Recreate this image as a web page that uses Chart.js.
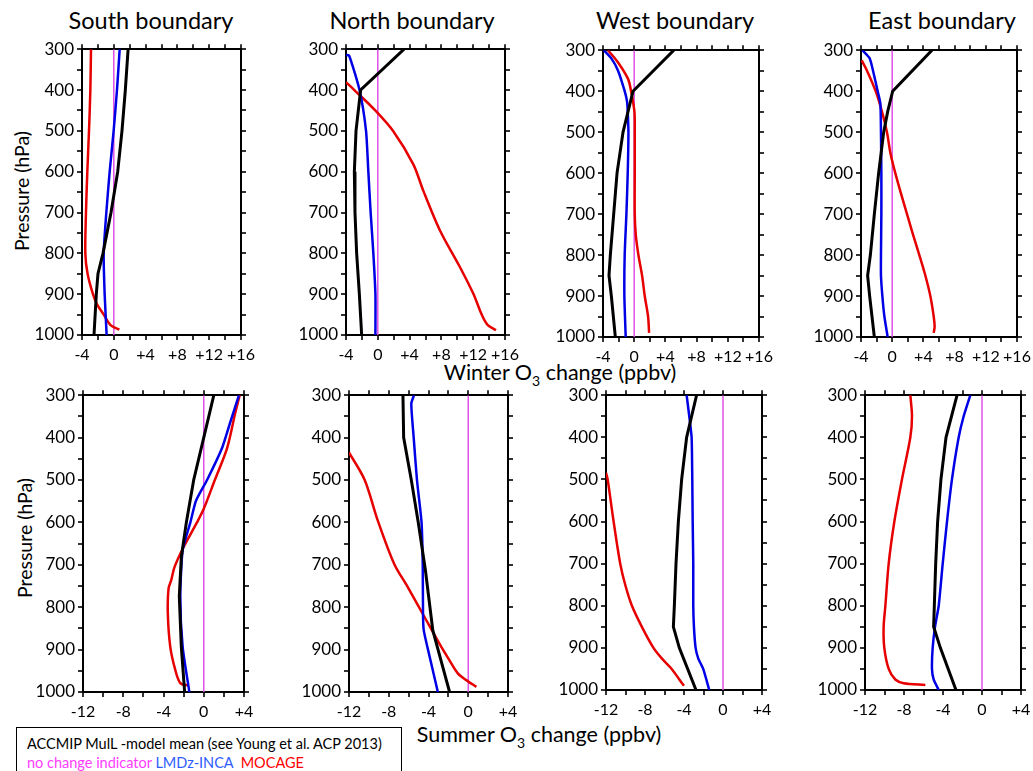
<!DOCTYPE html>
<html>
<head>
<meta charset="utf-8">
<script src="https://cdn.jsdelivr.net/npm/chart.js@4.4.1/dist/chart.umd.min.js"></script>
<style>
  body { margin: 0; width: 1033px; height: 771px; background: #fff; position: relative; overflow: hidden; font-family: Lato, sans-serif; }
  canvas { position: absolute; }
  .lbl { position: absolute; white-space: nowrap; color: #000; transform: translate(-50%, -50%); }
  .ttl { font-size: 23.5px; }
  .axt { font-size: 21.5px; }
  .ylab { font-size: 19.5px; transform: translate(-50%, -50%) rotate(-90deg); }
  #legende { position: absolute; left: 16px; top: 727px; width: 386px; height: 60px; border: 1.5px solid #000; box-sizing: border-box; font-size: 14.5px; padding: 6px 0 0 10px; line-height: 19px; }
</style>
</head>
<body>
<div class="lbl ttl" style="left:151px;top:20px">South boundary</div>
<div class="lbl ttl" style="left:412px;top:20px">North boundary</div>
<div class="lbl ttl" style="left:675px;top:20px">West boundary</div>
<div class="lbl ttl" style="left:942px;top:20px">East boundary</div>
<div class="lbl axt" style="left:560px;top:374px">Winter O<sub style="font-size:14px">3</sub> change (ppbv)</div>
<div class="lbl axt" style="left:539px;top:736px">Summer O<sub style="font-size:14px">3</sub> change (ppbv)</div>
<div class="lbl ylab" style="left:21px;top:191px">Pressure (hPa)</div>
<div class="lbl ylab" style="left:24px;top:538px">Pressure (hPa)</div>
<div id="legende">
  <div>ACCMIP MulL -model mean (see Young et al. ACP 2013)</div>
  <div><span style="color:#ff3cff">no change indicator</span> <span style="color:#2f5cff">LMDz-INCA</span>&nbsp; <span style="color:#ff0000">MOCAGE</span></div>
</div>
<script>
// pairs [O3 change (ppbv), pressure (hPa)]
const presMin = 300, presMax = 1000;
const winterRange = [-4, 16];
const summerRange = [-12, 4];

const southWinterMean = [[1.8,300],[1.45,400],[1.03,500],[0.49,600],[-0.35,700],[-1.36,800],[-1.99,850],[-2.2,900],[-2.49,1000]];
const southWinterInca = [[0.74,300],[0.4,400],[-0.02,500],[-0.52,600],[-0.94,700],[-1.27,800],[-1.15,900],[-0.9,1000]];
const southWinterMocage = [[-2.87,300],[-2.95,400],[-3.12,500],[-3.33,600],[-3.5,700],[-3.58,800],[-3.3,850],[-2.62,900],[-2.11,925],[-1.27,950],[-0.44,975],[0.7,987]];

const northWinterMean = [[3.3,300],[-2.16,400],[-2.74,500],[-2.95,600],[-2.87,700],[-2.66,800],[-2.32,900],[-2.03,1000]];
const northWinterInca = [[-4,314],[-3.6,316],[-2.3,400],[-1.48,500],[-1.19,600],[-0.9,700],[-0.56,800],[-0.3,900],[-0.3,1000]];
const northWinterMocage = [[-4,381],[-2.95,400],[-0.32,450],[1.95,501],[4.47,582],[5.73,647],[7.82,744],[10.34,834],[12.02,899],[13.07,950],[13.8,975],[14.87,988]];

const westWinterMean = [[5.08,300],[-0.15,400],[-0.79,450],[-1.43,500],[-2.2,600],[-2.63,700],[-3.06,800],[-3.23,850],[-2.93,900],[-2.42,1000]];
const westWinterInca = [[-3.91,300],[-2.93,320],[-2.07,350],[-1.22,400],[-0.92,425],[-0.83,450],[-0.74,500],[-0.83,600],[-1.0,700],[-1.22,800],[-1.26,900],[-1.09,1000]];
const westWinterMocage = [[-3.36,300],[-2.07,330],[-0.79,370],[-0.4,400],[0.03,450],[0.07,500],[0.07,600],[0.07,700],[0.2,750],[0.54,800],[1.01,850],[1.35,900],[1.78,950],[1.91,990]];

const eastWinterMean = [[5.1,300],[0.06,400],[-0.58,450],[-1.09,500],[-1.74,600],[-2.29,700],[-2.8,800],[-3.15,850],[-2.89,900],[-2.29,1000]];
const eastWinterInca = [[-3.83,300],[-2.89,320],[-2.46,350],[-1.86,400],[-1.52,430],[-1.44,500],[-1.39,600],[-1.39,700],[-1.44,800],[-1.44,850],[-1.26,900],[-1.0,950],[-0.58,1000]];
const eastWinterMocage = [[-3.91,325],[-3.23,350],[-2.12,400],[-1.31,450],[-0.67,500],[-0.24,550],[0.4,600],[1.13,650],[1.9,700],[2.67,750],[3.48,800],[4.25,850],[4.89,900],[5.32,950],[5.44,975],[5.32,990]];

const southSummerMean = [[1.0,300],[0.0,400],[-1.0,500],[-1.73,600],[-2.23,682],[-2.43,775],[-2.23,893],[-1.9,1000]];
const southSummerInca = [[3.5,300],[2.67,361],[1.83,424],[0.33,500],[-0.77,549],[-1.33,600],[-2.1,666],[-2.33,775],[-2.1,893],[-1.43,1000]];
const southSummerMocage = [[3.57,300],[3.1,345],[2.33,424],[1.1,500],[0.0,568],[-0.67,600],[-2.0,658],[-2.9,705],[-3.23,736],[-3.5,756],[-3.57,815],[-3.33,893],[-2.83,948],[-2.33,979],[-1.5,985]];

const northSummerMean = [[-6.57,300],[-6.5,400],[-5.73,500],[-5.03,600],[-4.31,713],[-3.57,854],[-3.04,900],[-1.88,1000]];
const northSummerInca = [[-5.46,300],[-5.73,320],[-5.49,400],[-5.16,500],[-4.7,600],[-4.58,700],[-4.55,819],[-4.48,854],[-4.05,900],[-3.06,1000]];
const northSummerMocage = [[-12,435],[-10.42,500],[-9.1,596],[-7.45,698],[-6.1,752],[-4.5,819],[-2.9,886],[-1.9,925],[-1.05,956],[-0.2,972],[0.82,988]];

const westSummerMean = [[-2.71,300],[-3.73,400],[-4.24,500],[-4.58,600],[-4.82,700],[-4.99,800],[-5.09,850],[-4.48,900],[-2.77,1000]];
const westSummerInca = [[-3.73,300],[-3.46,350],[-3.22,400],[-3.15,500],[-3.11,600],[-3.05,700],[-3.05,800],[-2.98,850],[-2.81,900],[-2.54,925],[-2.03,950],[-1.41,1000]];
const westSummerMocage = [[-12,484],[-11.83,500],[-11.22,600],[-10.54,700],[-10.03,750],[-9.34,800],[-8.32,850],[-7.13,900],[-6.28,925],[-5.26,950],[-4.48,975],[-4.0,990]];

const eastSummerMean = [[-2.56,300],[-3.69,400],[-4.21,500],[-4.55,600],[-4.75,700],[-4.89,800],[-4.96,850],[-4.27,900],[-2.67,1000]];
const eastSummerInca = [[-1.2,300],[-1.88,350],[-2.39,400],[-3.08,500],[-3.59,600],[-4.03,700],[-4.44,800],[-4.82,850],[-5.06,900],[-5.13,950],[-4.96,975],[-4.44,1000]];
const eastSummerMocage = [[-7.35,300],[-7.18,350],[-7.35,400],[-8.21,500],[-8.99,600],[-9.57,700],[-9.91,800],[-10.09,850],[-10.02,900],[-9.57,950],[-8.89,975],[-8.03,984],[-5.81,988]];

// plot areas on the page: left, top, right, bottom
const panneaux = [
  { rect: [82, 48, 241, 335], range: winterRange, series: [southWinterMean, southWinterInca, southWinterMocage] },
  { rect: [346, 48, 505, 335], range: winterRange, series: [northWinterMean, northWinterInca, northWinterMocage] },
  { rect: [603, 49, 759, 337], range: winterRange, series: [westWinterMean, westWinterInca, westWinterMocage] },
  { rect: [861, 49, 1017, 337], range: winterRange, series: [eastWinterMean, eastWinterInca, eastWinterMocage] },
  { rect: [83, 394, 244, 692], range: summerRange, series: [southSummerMean, southSummerInca, southSummerMocage] },
  { rect: [349, 394, 508, 692], range: summerRange, series: [northSummerMean, northSummerInca, northSummerMocage] },
  { rect: [606, 394, 762, 690], range: summerRange, series: [westSummerMean, westSummerInca, westSummerMocage] },
  { rect: [865, 394, 1021, 690], range: summerRange, series: [eastSummerMean, eastSummerInca, eastSummerMocage] }
];

const L = 60, R = 24, T = 12, B = 36;
const grille = { drawOnChartArea: false, drawTicks: true, tickLength: 5, color: '#333', lineWidth: 2 };
const bord = { display: true, color: '#000', width: 2 };
const policeX = { family: 'Lato', size: 16 };
const policeY = { family: 'Lato', size: 17 };

function dibujarPanel(p) {
  const c = document.createElement('canvas');
  c.width = p.rect[2] - p.rect[0] + L + R;
  c.height = p.rect[3] - p.rect[1] + T + B;
  c.style.left = (p.rect[0] - L) + 'px';
  c.style.top = (p.rect[1] - T) + 'px';
  document.body.appendChild(c);

  const pts = s => s.map(d => ({ x: d[0], y: d[1] }));
  const [mean, inca, mocage] = p.series;
  const [xmin, xmax] = p.range;

  new Chart(c, {
    type: 'scatter',
    data: {
      datasets: [
        { data: pts(mean), borderColor: '#000', borderWidth: 3, tension: 0 },
        { data: pts(inca), borderColor: '#0000e6', borderWidth: 2.5, tension: 0.2 },
        { data: pts(mocage), borderColor: '#e60000', borderWidth: 2.5, tension: 0.3 },
        { data: [{ x: 0, y: presMin }, { x: 0, y: presMax }], borderColor: '#e050e8', borderWidth: 1.5, tension: 0 }
      ].map(d => Object.assign(d, { showLine: true, pointRadius: 0, fill: false }))
    },
    options: {
      responsive: false, animation: false, events: [],
      layout: { padding: 0 },
      plugins: { legend: { display: false }, tooltip: { enabled: false } },
      scales: {
        x: {
          type: 'linear', position: 'bottom', min: xmin, max: xmax,
          ticks: { stepSize: 2, autoSkip: false, maxRotation: 0, padding: 5, color: '#000', font: policeX,
                   callback: v => v % 4 === 0 ? (v > 0 ? '+' + v : String(v)) : '' },
          grid: grille, border: bord, afterFit: s => { s.height = B; }
        },
        x2: {
          type: 'linear', position: 'top', min: xmin, max: xmax,
          ticks: { stepSize: 2, autoSkip: false, display: false },
          grid: grille, border: bord, afterFit: s => { s.height = T; }
        },
        y: {
          type: 'linear', position: 'left', reverse: true, min: presMin, max: presMax,
          ticks: { stepSize: 50, autoSkip: false, padding: 3, color: '#000', font: policeY,
                   callback: v => v % 100 === 0 ? String(v) : '' },
          grid: grille, border: bord, afterFit: s => { s.width = L; }
        },
        y2: {
          type: 'linear', position: 'right', reverse: true, min: presMin, max: presMax,
          ticks: { stepSize: 50, autoSkip: false, display: false },
          grid: grille, border: bord, afterFit: s => { s.width = R; }
        }
      }
    }
  });
}

panneaux.forEach(dibujarPanel);
</script>
</body>
</html>
